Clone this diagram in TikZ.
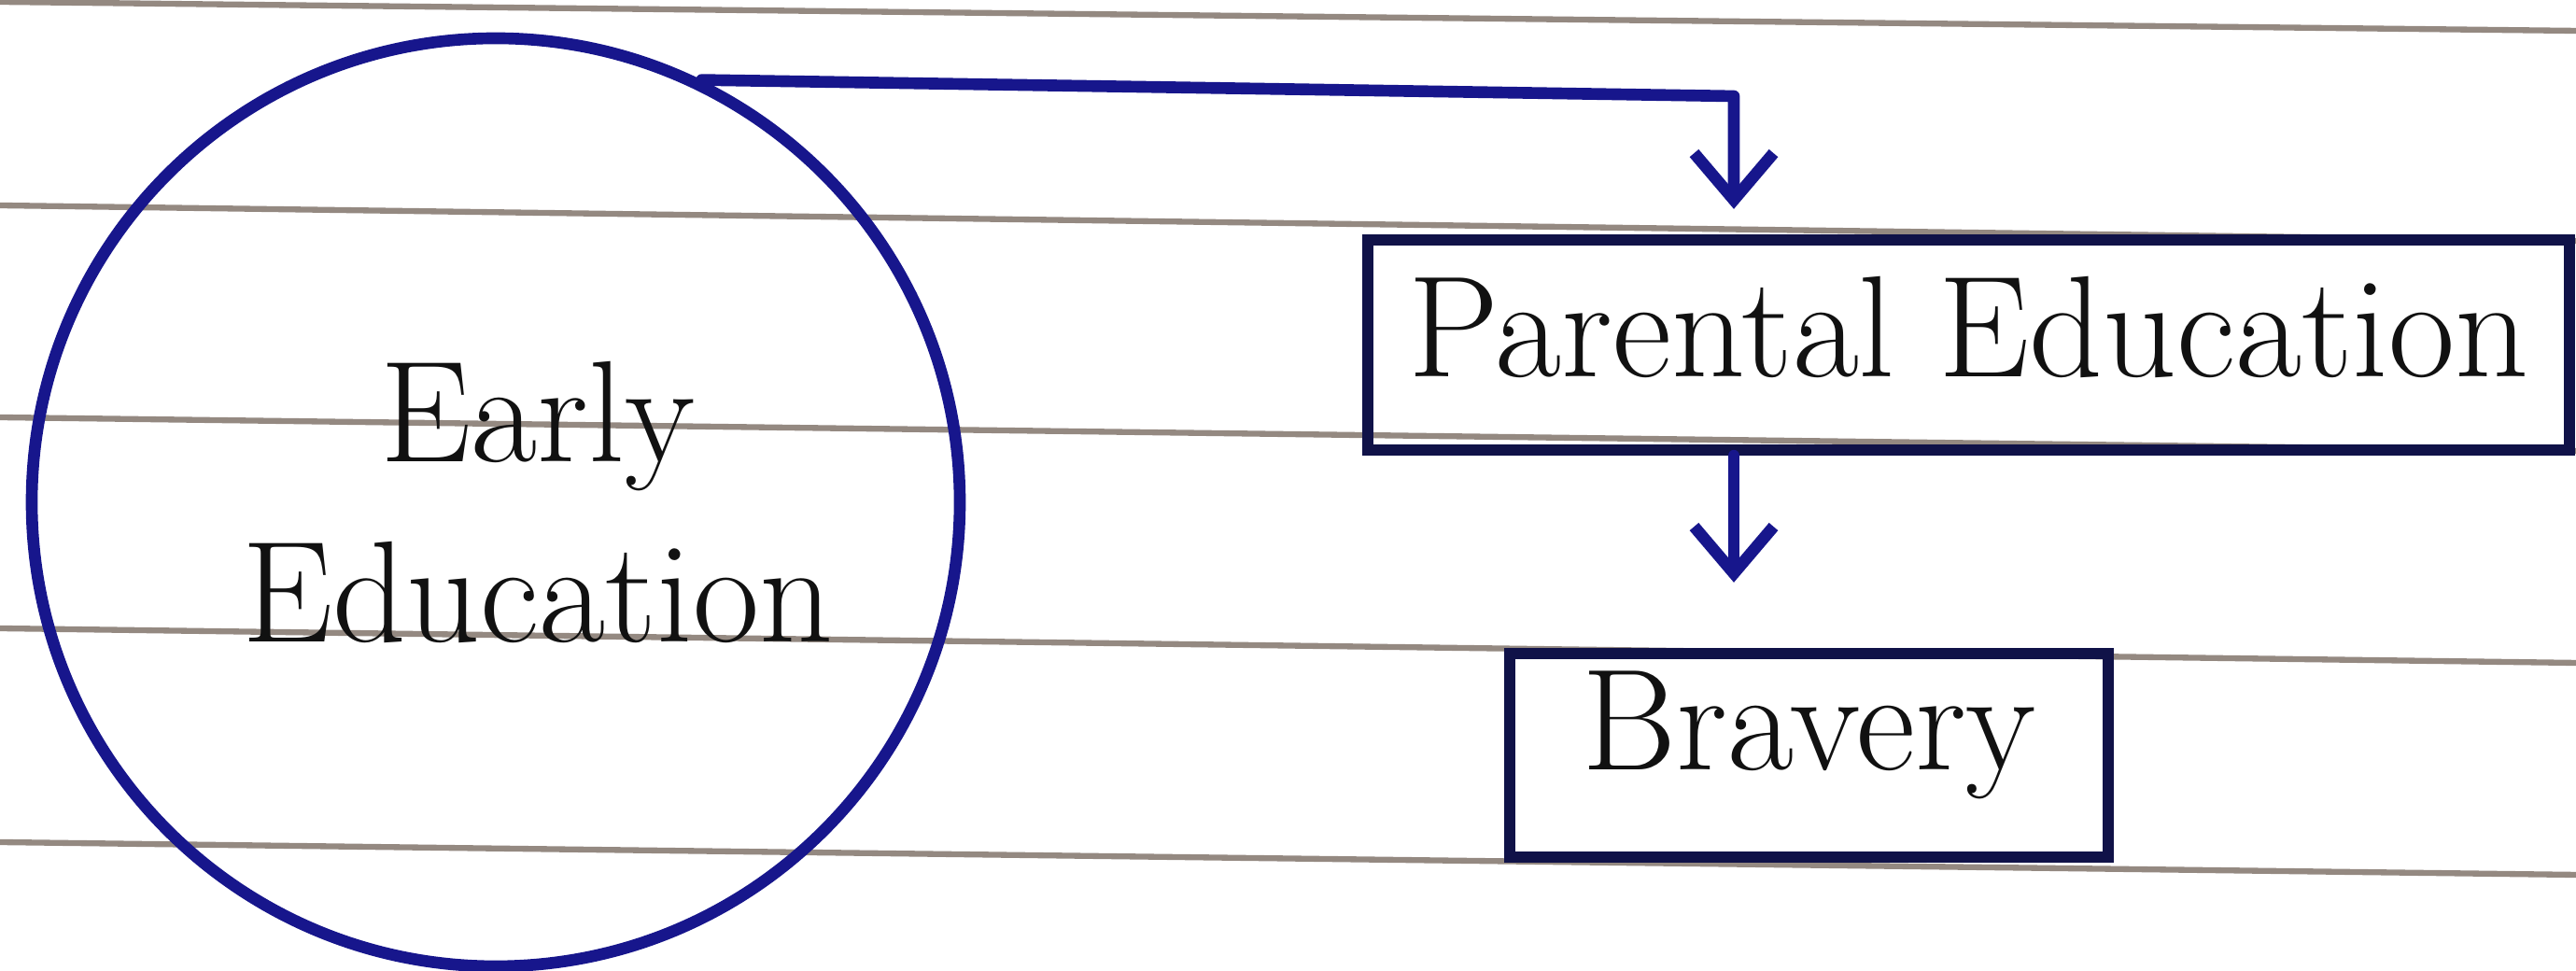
\documentclass[tikz,border=0pt]{standalone}
\usepackage{fontspec}
\usetikzlibrary{arrows.meta,positioning,calc}
\definecolor{inkblue}{HTML}{17168C}
\definecolor{inknavy}{HTML}{101248}
\definecolor{pencil}{HTML}{111111}
\definecolor{ruleline}{HTML}{948981}
\tikzset{
  ringbox/.style={circle, draw=inkblue, line width=3.6pt, minimum size=9.94cm},
  inktext/.style={align=center, text=pencil, font=\fontsize{44}{55}\selectfont},
  notebox/.style={draw=inknavy, line width=3.5pt, inner sep=0pt, inktext},
  arr/.style={-{Straight Barb[length=5mm, width=8.5mm]}, line width=3.6pt, color=inkblue,
              line join=round, line cap=round},
  ruled/.style={line width=1.8pt, color=ruleline}}

\begin{document}
\begin{tikzpicture}
    \useasboundingbox (0,0) rectangle (27.59,10.40);
    % the ruled paper
    \foreach \yl/\yr in {10.38/10.07, 8.20/7.82, 5.93/5.57, 3.67/3.30, 1.38/1.03}
      \draw[ruled] (0,\yl) -- (27.59,\yr);
    \node[ringbox] (early) at (5.31,5.02) {};
    \node[inktext] (earlytext) at ([xshift=0.45cm]early.center) {Early\\Education};
    \node[notebox, minimum width=12.87cm, minimum height=2.25cm, text depth=0.4cm] (parent)
      at (21.085,6.705) {Parental Education};
    \node[notebox, minimum width=6.41cm, minimum height=2.18cm, text depth=0.75cm] (bravery)
      at (19.375,2.31) {Bravery};
    % the flow
    \coordinate (bend) at (18.57,9.37);
    \draw[arr, shorten >=0.27cm] (early.64) -- (bend) -- (bend |- parent.north);
    \draw[arr, shorten >=0.70cm] (bend |- parent.south) -- (bend |- bravery.north);
\end{tikzpicture}
\end{document}
